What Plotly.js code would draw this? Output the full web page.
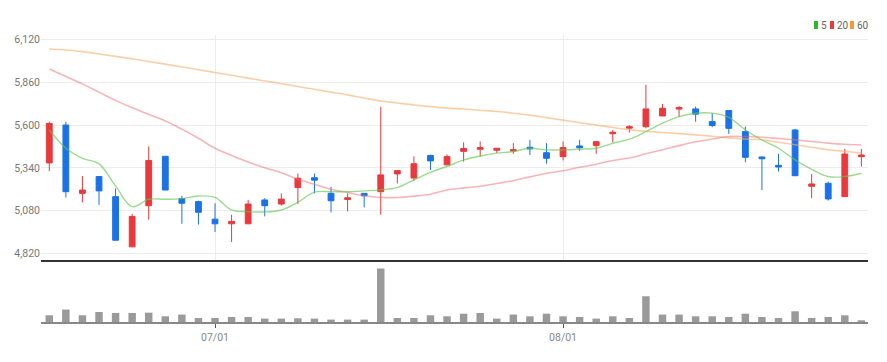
<!DOCTYPE html>
<html>
<head>
<meta charset="utf-8">
<script src="https://cdn.plot.ly/plotly-3.0.1.min.js"></script>
<style>html,body{margin:0;padding:0;background:#fff;}#chart{width:887px;height:362px;}</style>
</head>
<body>
<div id="chart"></div>
<script>
const dates = ['06/17','06/20','06/21','06/22','06/23','06/24','06/27','06/28','06/29','06/30',
  '07/01','07/04','07/05','07/06','07/07','07/08','07/11','07/12','07/13','07/14',
  '07/15','07/18','07/19','07/20','07/21','07/22','07/25','07/26','07/27','07/28',
  '07/29','08/01','08/02','08/03','08/04','08/05','08/08','08/09','08/10','08/11',
  '08/12','08/16','08/17','08/18','08/19','08/22','08/23','08/24','08/25','08/26'];
const openP = [5370,5600,5185,5287,5165,4860,5110,5410,5153,5135,5028,5000,5000,5145,5120,5220,5280,5185,5148,5185,5195,5303,5278,5415,5358,5440,5453,5447,5442,5465,5432,5408,5473,5475,5547,5581,5590,5655,5697,5698,5621,5688,5560,5406,5355,5570,5228,5246,5165,5408];
const highP = [5620,5620,5290,5290,5215,5060,5470,5410,5170,5140,5125,5055,5145,5155,5185,5305,5305,5225,5185,5185,5710,5325,5410,5420,5422,5495,5500,5460,5490,5510,5490,5500,5510,5500,5570,5600,5845,5728,5716,5712,5672,5690,5590,5408,5425,5577,5303,5256,5455,5455];
const lowP = [5320,5160,5130,5115,4900,4860,5025,5205,5000,4995,4950,4890,5000,5045,5110,5120,5185,5070,5075,5100,5055,5245,5260,5327,5355,5378,5408,5430,5425,5418,5365,5385,5443,5425,5493,5554,5580,5655,5650,5620,5587,5546,5374,5205,5317,5290,5155,5141,5165,5347];
const closeP = [5610,5195,5205,5200,4900,5045,5385,5205,5125,5070,5000,5015,5120,5110,5150,5277,5265,5140,5158,5170,5297,5323,5365,5382,5408,5458,5463,5459,5450,5455,5398,5463,5462,5499,5556,5590,5698,5702,5706,5666,5597,5580,5404,5395,5345,5292,5242,5151,5424,5418];
const ma5 = [5570,5459,5398,5364,5230,5104,5149,5149,5153,5169,5161,5084,5074,5072,5084,5131,5192,5195,5195,5200,5206,5220,5267,5313,5348,5388,5412,5429,5439,5459,5449,5449,5453,5459,5489,5514,5560,5611,5651,5672,5672,5647,5570,5509,5459,5388,5331,5287,5287,5307];
const ma20 = [5941,5895,5850,5800,5750,5705,5665,5625,5575,5520,5459,5415,5375,5340,5310,5270,5240,5210,5190,5170,5160,5160,5168,5180,5205,5218,5228,5245,5262,5285,5307,5322,5343,5362,5385,5400,5425,5450,5475,5498,5515,5530,5530,5526,5518,5510,5500,5490,5483,5479];
const ma60 = [6062,6056,6046,6032,6017,6002,5986,5970,5953,5936,5919,5902,5885,5868,5851,5834,5817,5800,5783,5764,5746,5734,5722,5712,5703,5697,5690,5682,5672,5660,5645,5630,5614,5600,5585,5572,5562,5555,5548,5540,5532,5522,5515,5510,5495,5480,5465,5450,5440,5430];
const volume = [26800,49600,26800,40000,36000,36000,37200,22800,29600,16000,16000,20000,20000,13600,13600,14800,13600,9600,9600,9600,213600,16000,16000,26800,22800,33200,36000,13600,29600,22800,33200,22800,20000,13600,22800,16000,102800,29600,29600,22800,22800,20000,33200,20000,16000,42800,16000,20000,26800,6800];
const priceTicks = [4820,5080,5340,5600,5860,6120];
const dateTicks = ['07/01','08/01'];
const legendNames = ['5','20','60'];
const legendColors = ['#2db82d','#e8393d','#f39a35'];

const FONT = '"Liberation Sans Narrow", "Roboto", "DejaVu Sans", sans-serif';

const traces = [
  {type:'scatter', mode:'lines', x:dates, y:ma60, xaxis:'x', yaxis:'y',
   line:{color:'rgba(247,175,110,0.6)', width:1.6, shape:'spline'}, hoverinfo:'skip'},
  {type:'scatter', mode:'lines', x:dates, y:ma20, xaxis:'x', yaxis:'y',
   line:{color:'rgba(238,110,115,0.5)', width:1.6, shape:'spline'}, hoverinfo:'skip'},
  {type:'scatter', mode:'lines', x:dates, y:ma5, xaxis:'x', yaxis:'y',
   line:{color:'rgba(100,200,80,0.65)', width:1.4, shape:'spline'}, hoverinfo:'skip'},
  {type:'candlestick', x:dates, open:openP, high:highP, low:lowP, close:closeP,
   xaxis:'x', yaxis:'y', whiskerwidth:0,
   increasing:{line:{color:'#e8393d', width:1}, fillcolor:'#e8393d'},
   decreasing:{line:{color:'#1a72e6', width:1}, fillcolor:'#1a72e6'}},
  {type:'bar', x:dates, y:volume, xaxis:'x2', yaxis:'y2',
   marker:{color:'#9a9a9a', line:{width:0}}}
];

const W = 887, ML = 41, MR = 19, MT = 35, MB = 40;
const pw = W - ML - MR, ph = 362 - MT - MB;
function px2x(p){ return (p - ML) / pw; }
function py2y(p){ return (362 - MB - p) / ph; }

const shapes = [];
const annotations = [];
const boxX = [814, 830, 850];
for (let i = 0; i < legendNames.length; i++) {
  shapes.push({type:'rect', xref:'paper', yref:'paper',
    x0:px2x(boxX[i]), x1:px2x(boxX[i]+4), y0:py2y(29), y1:py2y(21),
    fillcolor:legendColors[i], line:{width:0}});
  annotations.push({xref:'paper', yref:'paper', x:px2x(boxX[i]+4.5), y:py2y(25),
    xanchor:'left', yanchor:'middle', showarrow:false, text:legendNames[i],
    font:{family:FONT, size:10, color:'#666'}});
}

const layout = {
  width:887, height:362,
  margin:{l:ML, r:MR, t:MT, b:MB},
  paper_bgcolor:'#fff', plot_bgcolor:'#fff',
  showlegend:false, boxgap:0.5, bargap:0.55,
  font:{family:FONT, size:11, color:'#777'},
  xaxis:{type:'category', range:[-0.5, 49.4], anchor:'y', domain:[0,1],
    showticklabels:false, tickvals:dateTicks, showgrid:true, gridcolor:'#ececec',
    ticks:'', showline:true, linecolor:'#333', linewidth:2, zeroline:false,
    rangeslider:{visible:false}, fixedrange:true},
  yaxis:{domain:[0.216,1], range:[4780,6147], tickvals:priceTicks, tickformat:',d',
    showgrid:true, gridcolor:'#ececec', zeroline:false, showline:false, ticks:'',
    tickfont:{family:FONT, size:10.5, color:'#777'}},
  xaxis2:{type:'category', range:[-0.5, 49.4], anchor:'y2', domain:[0,1],
    tickvals:dateTicks, ticks:'outside', ticklen:4, tickcolor:'#555', tickwidth:1,
    showline:true, linecolor:'#888', linewidth:2, showgrid:false, zeroline:false,
    tickfont:{family:FONT, size:10.5, color:'#888'}},
  yaxis2:{domain:[0,0.199], range:[0,228000], visible:false},
  shapes:shapes, annotations:annotations
};

Plotly.newPlot('chart', traces, layout, {displayModeBar:false, staticPlot:true});
</script>
</body>
</html>
